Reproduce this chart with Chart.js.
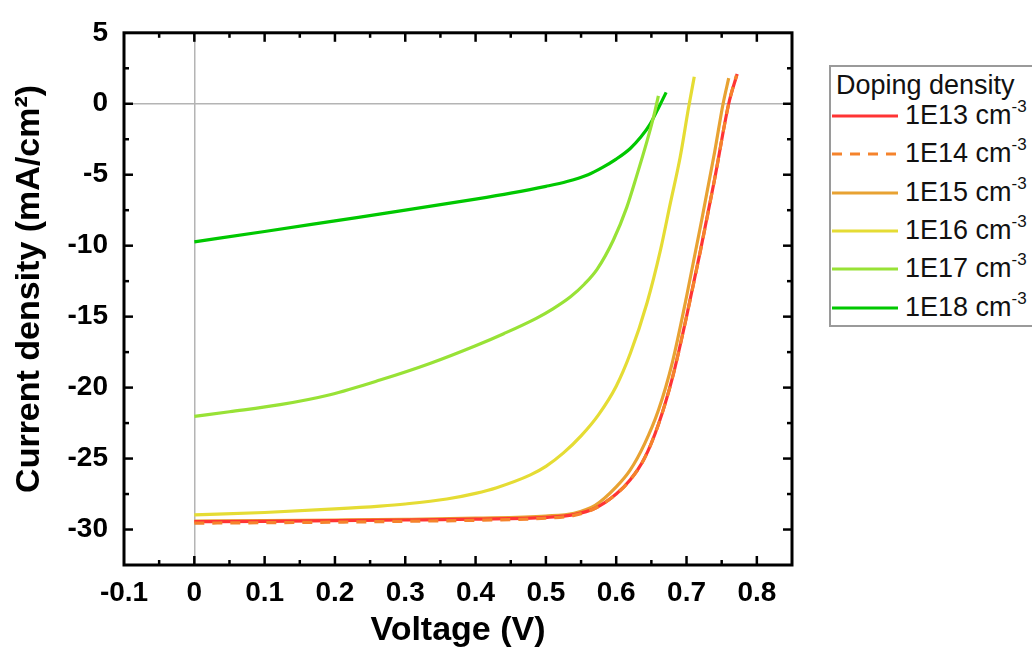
<!DOCTYPE html>
<html>
<head>
<meta charset="utf-8">
<script src="https://cdn.jsdelivr.net/npm/chart.js@4.4.1/dist/chart.umd.min.js"></script>
<style>
html,body{margin:0;padding:0;background:#fff;overflow:hidden;}
#wrap{position:relative;width:1032px;height:651px;overflow:hidden;}
#c{position:absolute;left:0;top:0;}
#legend{position:absolute;left:829px;top:65px;width:240px;height:262px;border:2px solid #9a9a9a;box-sizing:border-box;background:#fff;font-family:'Liberation Sans',Arial,sans-serif;color:#111;}
#legend .ttl{position:absolute;left:5px;top:3px;font-size:27px;line-height:30px;white-space:nowrap;}
#legend .row{position:absolute;left:0;height:30px;width:300px;}
#legend .row svg{position:absolute;left:1px;top:0;}
#legend .row span{position:absolute;left:74px;top:0;font-size:27px;line-height:30px;white-space:nowrap;}
#legend sup{font-size:17px;vertical-align:0;position:relative;top:-12px;}
</style>
</head>
<body>
<div id="wrap">
<canvas id="c" width="1032" height="651"></canvas>
<div id="legend"><div class="ttl">Doping density</div></div>
</div>
<script>
// ---- Data ----
const seriesNames = ['1E13', '1E14', '1E15', '1E16', '1E17', '1E18'];
const seriesUnit = 'cm';
const seriesUnitSup = '-3';
const legendTitle = 'Doping density';

const V_1E13 = [0, 0.1, 0.2, 0.3, 0.4, 0.5, 0.54, 0.57, 0.6, 0.62, 0.64, 0.66, 0.68, 0.70, 0.72, 0.74, 0.76, 0.772];
const J_1E13 = [-29.45, -29.42, -29.38, -29.33, -29.27, -29.15, -28.95, -28.5, -27.5, -26.5, -25.0, -22.6, -19.3, -15.0, -10.3, -5.3, 0.0, 2.1];

const V_1E14 = [0, 0.1, 0.2, 0.3, 0.4, 0.5, 0.54, 0.57, 0.6, 0.62, 0.64, 0.66, 0.68, 0.70, 0.72, 0.74, 0.76, 0.771];
const J_1E14 = [-29.55, -29.52, -29.48, -29.42, -29.35, -29.2, -29.0, -28.5, -27.5, -26.5, -25.0, -22.6, -19.3, -15.0, -10.3, -5.3, 0.0, 2.0];

const V_1E15 = [0, 0.1, 0.2, 0.3, 0.4, 0.5, 0.54, 0.57, 0.6, 0.62, 0.64, 0.66, 0.68, 0.70, 0.72, 0.74, 0.752, 0.76];
const J_1E15 = [-29.4, -29.37, -29.33, -29.28, -29.2, -29.05, -28.85, -28.3, -27.0, -25.8, -24.0, -21.6, -18.2, -13.6, -8.6, -3.4, 0.0, 1.8];

const V_1E16 = [0, 0.1, 0.2, 0.264, 0.3, 0.359, 0.4, 0.43, 0.478, 0.5, 0.525, 0.55, 0.575, 0.6, 0.62, 0.644, 0.663, 0.677, 0.691, 0.703, 0.711];
const J_1E16 = [-28.97, -28.8, -28.55, -28.35, -28.2, -27.85, -27.45, -27.05, -26.15, -25.55, -24.6, -23.4, -21.9, -19.9, -17.6, -14.0, -10.3, -7.0, -3.75, -0.25, 1.9];

const V_1E17 = [0, 0.05, 0.122, 0.193, 0.264, 0.335, 0.4, 0.44, 0.487, 0.51, 0.535, 0.555, 0.573, 0.596, 0.615, 0.629, 0.644, 0.654, 0.660];
const J_1E17 = [-22.03, -21.7, -21.2, -20.5, -19.47, -18.3, -17.05, -16.2, -15.1, -14.45, -13.6, -12.7, -11.65, -9.6, -7.3, -5.1, -2.6, -0.75, 0.56];

const V_1E18 = [0, 0.1, 0.2, 0.3, 0.4, 0.45, 0.5, 0.53, 0.56, 0.58, 0.6, 0.62, 0.635, 0.648, 0.658, 0.664, 0.671];
const J_1E18 = [-9.73, -9.0, -8.25, -7.5, -6.72, -6.3, -5.82, -5.48, -5.0, -4.5, -3.9, -3.15, -2.35, -1.45, -0.5, 0.1, 0.8];

const xTickValues = [-0.1, 0, 0.1, 0.2, 0.3, 0.4, 0.5, 0.6, 0.7, 0.8];
const xTickLabels = ['-0.1', '0', '0.1', '0.2', '0.3', '0.4', '0.5', '0.6', '0.7', '0.8'];
const yTickValues = [-30, -25, -20, -15, -10, -5, 0, 5];
const yTickLabels = ['-30', '-25', '-20', '-15', '-10', '-5', '0', '5'];
const xTitle = 'Voltage (V)';
const yTitle = 'Current density (mA/cm\u00B2)';

// ---- Styles ----
const colors = ['#ff3434', '#f5832c', '#e8a232', '#e5dc34', '#98e236', '#00c800'];
const dashes = [[], [10, 8], [], [], [], []];
const orders = [1, 0, 2, 3, 4, 5];
const FONT = "'Liberation Sans', Arial, sans-serif";

const allV = [V_1E13, V_1E14, V_1E15, V_1E16, V_1E17, V_1E18];
const allJ = [J_1E13, J_1E14, J_1E15, J_1E16, J_1E17, J_1E18];

const datasets = seriesNames.map((name, k) => ({
  label: name + ' ' + seriesUnit + seriesUnitSup,
  data: allV[k].map((v, i) => ({x: v, y: allJ[k][i]})),
  borderColor: colors[k],
  backgroundColor: colors[k],
  borderWidth: 3.2,
  borderDash: dashes[k],
  pointRadius: 0,
  fill: false,
  cubicInterpolationMode: 'monotone',
  order: orders[k]
}));

// ---- Legend (HTML, real text) ----
const leg = document.getElementById('legend');
leg.querySelector('.ttl').textContent = legendTitle;
seriesNames.forEach((name, k) => {
  const row = document.createElement('div');
  row.className = 'row';
  row.style.top = (33 + 38.3 * k) + 'px';
  const dash = dashes[k].length ? ` stroke-dasharray="${dashes[k].join(' ')}"` : '';
  row.innerHTML = `<svg width="70" height="30"><line x1="0" y1="16" x2="66" y2="16" stroke="${colors[k]}" stroke-width="3"${dash}/></svg>` +
    `<span>${name} ${seriesUnit}<sup>${seriesUnitSup}</sup></span>`;
  leg.appendChild(row);
});

// ---- Frame + inward ticks + y title plugin ----
const frameTicks = {
  id: 'frameTicks',
  afterDatasetsDraw(chart) {
    const {ctx, chartArea: a, scales: {x, y}} = chart;
    ctx.save();
    ctx.strokeStyle = '#000';
    ctx.lineCap = 'butt';
    const seg = (x1, y1, x2, y2) => { ctx.beginPath(); ctx.moveTo(x1, y1); ctx.lineTo(x2, y2); ctx.stroke(); };
    const MAJ = 9, MIN = 5;
    ctx.lineWidth = 2.5;
    const xv = x.ticks.map(t => t.value);
    const xs = xv[1] - xv[0];
    xv.forEach(v => {
      const p = x.getPixelForValue(v);
      if (v > x.min + 1e-9 && v < x.max - 1e-9) { seg(p, a.bottom, p, a.bottom - MAJ); seg(p, a.top, p, a.top + MAJ); }
      const m = v + xs / 2;
      if (m < x.max - 1e-9) { const q = x.getPixelForValue(m); seg(q, a.bottom, q, a.bottom - MIN); seg(q, a.top, q, a.top + MIN); }
    });
    const yv = y.ticks.map(t => t.value);
    const ys = yv[1] - yv[0];
    yv.forEach(v => {
      const p = y.getPixelForValue(v);
      if (v > y.min + 1e-9 && v < y.max - 1e-9) { seg(a.left, p, a.left + MAJ, p); seg(a.right, p, a.right - MAJ, p); }
      const m = v - ys / 2;
      if (m > y.min + 1e-9) { const q = y.getPixelForValue(m); seg(a.left, q, a.left + MIN, q); seg(a.right, q, a.right - MIN, q); }
    });
    ctx.lineWidth = 3;
    ctx.strokeRect(a.left, a.top, a.right - a.left, a.bottom - a.top);
    // y axis title (rotated, real text)
    ctx.fillStyle = '#000';
    ctx.font = 'bold 34px ' + FONT;
    ctx.textAlign = 'center';
    ctx.textBaseline = 'alphabetic';
    ctx.translate(39, (a.top + a.bottom) / 2 - 10);
    ctx.rotate(-Math.PI / 2);
    ctx.fillText(yTitle, 0, 0);
    ctx.restore();
  }
};

const tickFont = {family: FONT, size: 28, weight: 'bold'};
const titleFont = {family: FONT, size: 34, weight: 'bold'};
const zeroGrid = c => (c.tick && Math.abs(c.tick.value) < 1e-9) ? '#b4b4b4' : 'rgba(0,0,0,0)';

new Chart(document.getElementById('c'), {
  type: 'line',
  data: {datasets},
  options: {
    responsive: false,
    animation: false,
    devicePixelRatio: 1,
    layout: {padding: {left: 0, right: 240, top: 28, bottom: 0}},
    plugins: {legend: {display: false}, tooltip: {enabled: false}},
    scales: {
      x: {
        type: 'linear',
        min: -0.1, max: 0.85,
        afterBuildTicks: s => { s.ticks = xTickValues.map(v => ({value: v})); },
        afterFit: s => { s.height = 86; },
        ticks: {
          font: tickFont, color: '#000', padding: 11, maxRotation: 0, autoSkip: false,
          callback: (v) => { const i = xTickValues.findIndex(t => Math.abs(t - v) < 1e-9); return i >= 0 ? xTickLabels[i] : ''; }
        },
        grid: {color: zeroGrid, lineWidth: 1.5, drawTicks: false},
        border: {display: false},
        title: {display: true, text: xTitle, font: titleFont, color: '#000', padding: {top: 0, bottom: 0}}
      },
      y: {
        type: 'linear',
        min: -32.5, max: 5,
        afterBuildTicks: s => { s.ticks = yTickValues.map(v => ({value: v})); },
        afterFit: s => { s.width = 124; },
        ticks: {
          font: tickFont, color: '#000', padding: 16, autoSkip: false,
          callback: (v) => { const i = yTickValues.findIndex(t => Math.abs(t - v) < 1e-9); return i >= 0 ? yTickLabels[i] : ''; }
        },
        grid: {color: zeroGrid, lineWidth: 1.5, drawTicks: false},
        border: {display: false},
        title: {display: false}
      }
    }
  },
  plugins: [frameTicks]
});
</script>
</body>
</html>
